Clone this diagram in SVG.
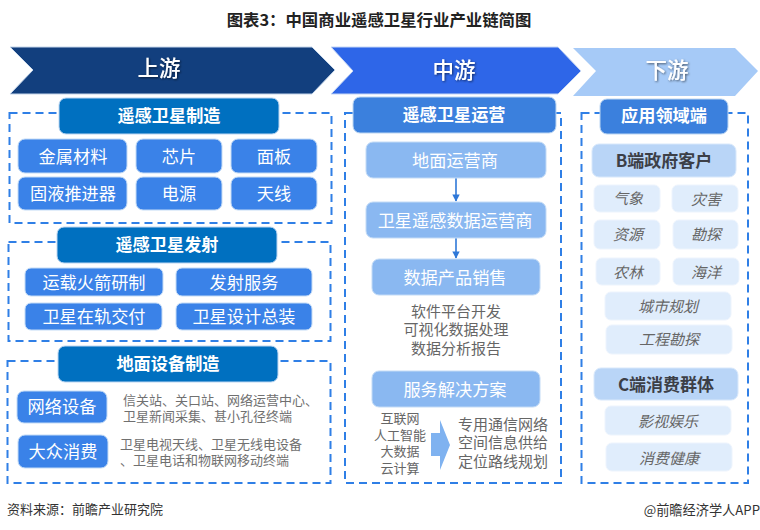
<svg xmlns="http://www.w3.org/2000/svg" width="760" height="530" viewBox="0 0 760 530">
<defs>
<filter id="ts" x="-20%" y="-20%" width="140%" height="140%"><feDropShadow dx="1" dy="1" stdDeviation="0.8" flood-color="#000" flood-opacity="0.55"/></filter>
<marker id="ah" viewBox="0 0 10 10" refX="9" refY="5" markerWidth="4.6" markerHeight="4.6" orient="auto"><path d="M0,0L10,5L0,10z" fill="#2f78d8"/></marker>
</defs>
<style>
text{font-family:"Noto Sans CJK SC","Noto Sans",sans-serif;text-anchor:middle}
.dash{fill:none;stroke:#2f7fe6;stroke-width:2;stroke-dasharray:8 5}
.hd{fill:#0070c0;stroke:#bcd6f2;stroke-width:1}
.hd2{fill:#3b80dd;stroke:#bcd6f2;stroke-width:1}
.c{fill:#3a82e8;stroke:#c3dbf6;stroke-width:1}
.m{fill:#8ab8f1;stroke:#c3dbf6;stroke-width:1}
.b{fill:#b9d5f7;stroke:#d8e8fb;stroke-width:1}
.l{fill:#e0edfc;stroke:#edf4fd;stroke-width:1}
.ht{font-size:17.2px;font-weight:700;fill:#fff}
.ct{font-size:17.2px;fill:#fff}
.gt{font-size:15px;fill:#666}
.st{font-size:13px;fill:#707070;text-anchor:start}
.sm{font-size:13px;fill:#666}
.bt{font-size:17px;font-weight:700;fill:#3c3f47}
.it{font-size:15px;font-style:italic;fill:#666}
.ch{font-size:21.5px;font-weight:500;fill:#fff;filter:url(#ts)}
</style>
<rect width="760" height="530" fill="#fff"/>
<text id="title" x="379" y="26" style="font-size:16.4px;font-weight:700;fill:#222">图表3：中国商业遥感卫星行业产业链简图</text>
<g id="chevrons">
<g id="up"><polygon points="10,47 312,47 335,70 312,94 10,94 33,70" fill="#123f7e" stroke="#c5d6ea"/><text class="ch" x="159" y="76">上游</text></g>
<g id="mid"><polygon points="331,47 558,47 581,71 558,94 331,94 353,71" fill="#2e66e8" stroke="#c5d6f5"/><text class="ch" x="454" y="78">中游</text></g>
<g id="down"><polygon points="573,48 735,48 758,71 735,96 573,96 596,71" fill="#a6caf7"/><text class="ch" x="667" y="78">下游</text></g>
</g>
<g id="frames">
<rect class="dash" x="9.5" y="113" width="322" height="110"/>
<rect class="dash" x="8.5" y="242" width="322" height="99"/>
<rect class="dash" x="7.5" y="361" width="323" height="122"/>
<rect class="dash" x="345" y="113" width="216" height="370"/>
<rect class="dash" x="581.5" y="113" width="166.5" height="370"/>
</g>
<g id="connectors">
<line x1="456" y1="178" x2="456" y2="201" stroke="#2f78d8" stroke-width="1.6" marker-end="url(#ah)"/>
<line x1="456" y1="238" x2="456" y2="258" stroke="#2f78d8" stroke-width="1.6" marker-end="url(#ah)"/>
</g>
<g id="n-zz"><rect class="hd" x="59" y="98" width="220" height="36" rx="7"/><text class="ht" x="169" y="122">遥感卫星制造</text></g>
<g id="n-jscl"><rect class="c" x="18" y="139" width="109" height="34" rx="7"/><text class="ct" x="73" y="163">金属材料</text></g>
<g id="n-xp"><rect class="c" x="136" y="139" width="86" height="34" rx="7"/><text class="ct" x="179" y="163">芯片</text></g>
<g id="n-mb"><rect class="c" x="231" y="139" width="86" height="34" rx="7"/><text class="ct" x="274" y="163">面板</text></g>
<g id="n-gy"><rect class="c" x="18" y="177" width="109" height="33" rx="7"/><text class="ct" x="73" y="200">固液推进器</text></g>
<g id="n-dy"><rect class="c" x="136" y="177" width="86" height="33" rx="7"/><text class="ct" x="179" y="200">电源</text></g>
<g id="n-tx"><rect class="c" x="231" y="177" width="86" height="33" rx="7"/><text class="ct" x="274" y="200">天线</text></g>
<g id="n-fs"><rect class="hd" x="57" y="227" width="220" height="36" rx="7"/><text class="ht" x="167" y="251">遥感卫星发射</text></g>
<g id="n-yz"><rect class="c" x="25" y="268" width="138" height="28" rx="6"/><text class="ct" x="94" y="289">运载火箭研制</text></g>
<g id="n-fw"><rect class="c" x="176" y="268" width="136" height="28" rx="6"/><text class="ct" x="244" y="289">发射服务</text></g>
<g id="n-zg"><rect class="c" x="25" y="303" width="137" height="27" rx="6"/><text class="ct" x="94" y="323">卫星在轨交付</text></g>
<g id="n-sj"><rect class="c" x="176" y="303" width="136" height="27" rx="6"/><text class="ct" x="244" y="323">卫星设计总装</text></g>
<g id="n-dm"><rect class="hd" x="58" y="346" width="220" height="36" rx="7"/><text class="ht" x="168" y="370">地面设备制造</text></g>
<g id="n-wl"><rect class="c" x="17" y="391" width="90" height="32" rx="7"/><text class="ct" x="62" y="413">网络设备</text>
<text class="st" x="123"><tspan x="123" y="405">信关站、关口站、网络运营中心、</tspan><tspan x="123" y="421">卫星新闻采集、甚小孔径终端</tspan></text></g>
<g id="n-dz"><rect class="c" x="18" y="435" width="90" height="33" rx="7"/><text class="ct" x="63" y="458">大众消费</text>
<text class="st" x="120"><tspan x="120" y="449">卫星电视天线、卫星无线电设备</tspan><tspan x="120" y="465">、卫星电话和物联网移动终端</tspan></text></g>
<g id="n-yy"><rect class="hd2" x="353" y="97" width="203" height="36" rx="7"/><text class="ht" x="454" y="121">遥感卫星运营</text></g>
<g id="n-dmyy"><rect class="m" x="366" y="142" width="180" height="36" rx="7"/><text class="ct" x="455" y="167">地面运营商</text></g>
<g id="n-wxyy"><rect class="m" x="366" y="202" width="180" height="36" rx="7"/><text class="ct" x="455" y="227">卫星遥感数据运营商</text></g>
<g id="n-sjcp"><rect class="m" x="372" y="259" width="168" height="36" rx="7"/><text class="ct" x="455" y="284">数据产品销售</text>
<text class="gt"><tspan x="456" y="317">软件平台开发</tspan><tspan x="456" y="335">可视化数据处理</tspan><tspan x="456" y="354">数据分析报告</tspan></text></g>
<g id="n-fwjj"><rect class="m" x="372" y="371" width="168" height="36" rx="7"/><text class="ct" x="455" y="396">服务解决方案</text>
<text class="sm"><tspan x="400" y="423">互联网</tspan><tspan x="400" y="440">人工智能</tspan><tspan x="400" y="456">大数据</tspan><tspan x="400" y="473">云计算</tspan></text>
<path id="bigarrow" d="M431,433H440V420L450,445L440,470V456H431Z" fill="#7fb2f0"/>
<text class="gt"><tspan x="503" y="430">专用通信网络</tspan><tspan x="503" y="448">空间信息供给</tspan><tspan x="503" y="467">定位路线规划</tspan></text></g>
<g id="n-app"><rect class="hd2" x="600" y="99" width="128" height="35" rx="7"/><text class="ht" x="664" y="122">应用领域端</text></g>
<g id="n-b"><rect class="b" x="592" y="144" width="144" height="33" rx="7"/><text class="bt" x="664" y="167">B端政府客户</text></g>
<g id="n-qx"><rect class="l" x="594" y="185" width="66" height="27" rx="6"/><text class="it" x="628" y="204">气象</text></g>
<g id="n-zh"><rect class="l" x="672" y="185" width="66" height="27" rx="6"/><text class="it" x="706" y="205">灾害</text></g>
<g id="n-zy"><rect class="l" x="594" y="220" width="66" height="29" rx="6"/><text class="it" x="628" y="240">资源</text></g>
<g id="n-kt"><rect class="l" x="673" y="220" width="65" height="29" rx="6"/><text class="it" x="706" y="240">勘探</text></g>
<g id="n-nl"><rect class="l" x="596" y="258" width="64" height="27" rx="6"/><text class="it" x="628" y="278">农林</text></g>
<g id="n-hy"><rect class="l" x="673" y="258" width="66" height="27" rx="6"/><text class="it" x="706" y="278">海洋</text></g>
<g id="n-cs"><rect class="l" x="605" y="292" width="126" height="28" rx="6"/><text class="it" x="668" y="312">城市规划</text></g>
<g id="n-gc"><rect class="l" x="606" y="325" width="126" height="29" rx="6"/><text class="it" x="669" y="345">工程勘探</text></g>
<g id="n-c"><rect class="b" x="594" y="368" width="144" height="32" rx="7"/><text class="bt" x="666" y="391">C端消费群体</text></g>
<g id="n-ys"><rect class="l" x="605" y="406" width="126" height="29" rx="6"/><text class="it" x="668" y="427">影视娱乐</text></g>
<g id="n-xf"><rect class="l" x="606" y="443" width="126" height="28" rx="6"/><text class="it" x="669" y="464">消费健康</text></g>
<text id="src" x="7" y="514" style="font-size:13px;fill:#333;text-anchor:start">资料来源：前瞻产业研究院</text>
<text id="brand" x="760" y="515" style="font-size:13.2px;fill:#333;text-anchor:end">@前瞻经济学人APP</text>
</svg>
